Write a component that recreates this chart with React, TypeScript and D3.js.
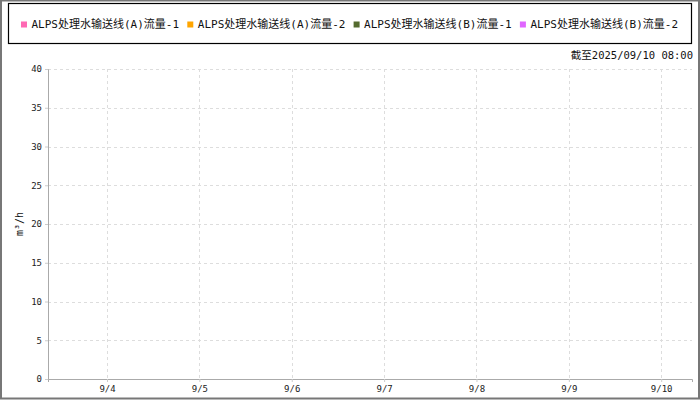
import React, { useEffect, useRef } from 'react';
import * as d3 from 'd3';

// series shown in the legend (no data points in the period)
const seriesNames = [
  'ALPS处理水输送线(A)流量-1',
  'ALPS处理水输送线(A)流量-2',
  'ALPS处理水输送线(B)流量-1',
  'ALPS处理水输送线(B)流量-2',
];
const seriesColors = ['#ff69b4', '#ffa500', '#556b2f', '#e066ff'];
const timeDomain = [new Date(2025, 8, 3, 8, 40), new Date(2025, 8, 10, 8, 0)];
const yDomain = [0, 40];
const yTicks = [0, 5, 10, 15, 20, 25, 30, 35, 40];
const asOfLabel = '截至2025/09/10 08:00';
const yLabel = 'm³/h';

const W = 700;
const H = 400;
const MONO = '"DejaVu Sans Mono", "Noto Sans CJK SC", monospace';

const App: React.FC = () => {
  const svgRef = useRef<SVGSVGElement>(null);

  useEffect(() => {
    if (!svgRef.current) return;
    const svg = d3.select(svgRef.current);
    svg.selectAll('*').remove();

    const margin = { top: 69, right: 8, bottom: 21, left: 48 };
    const innerW = W - margin.left - margin.right;
    const innerH = H - margin.top - margin.bottom;

    // outer frame
    svg.append('rect')
      .attr('x', 1).attr('y', 0.5)
      .attr('width', W - 2).attr('height', H - 2)
      .attr('fill', '#fff')
      .attr('stroke', '#777')
      .attr('stroke-width', 2);

    // legend box
    svg.append('rect')
      .attr('x', 8.5).attr('y', 3.5)
      .attr('width', 683).attr('height', 40)
      .attr('fill', 'none')
      .attr('stroke', '#000')
      .attr('stroke-width', 1.2);

    const legend = svg.append('g').attr('transform', 'translate(21, 24)');
    const items = legend.selectAll('g')
      .data(seriesNames)
      .enter().append('g')
      .attr('transform', (_, i) => `translate(${i * 166.3}, 0)`);
    items.append('rect')
      .attr('x', 0).attr('y', -2.5)
      .attr('width', 6).attr('height', 6)
      .attr('fill', (_, i) => seriesColors[i]);
    items.append('text')
      .attr('x', 10.5).attr('y', 4)
      .attr('font-family', MONO)
      .attr('font-size', '11px')
      .attr('fill', '#111')
      .text(d => d);

    svg.append('text')
      .attr('x', 693).attr('y', 59)
      .attr('text-anchor', 'end')
      .attr('font-family', MONO)
      .attr('font-size', '10.5px')
      .attr('fill', '#111')
      .text(asOfLabel);

    const x = d3.scaleTime().domain(timeDomain).range([0, innerW]);
    const y = d3.scaleLinear().domain(yDomain).range([innerH, 0]);
    const dayTicks = d3.timeDay.range(d3.timeDay.ceil(timeDomain[0]), timeDomain[1]);

    const g = svg.append('g').attr('transform', `translate(${margin.left}, ${margin.top})`);

    // grid
    g.append('g').selectAll('line')
      .data(yTicks.filter(t => t > 0))
      .enter().append('line')
      .attr('x1', 0).attr('x2', innerW)
      .attr('y1', d => Math.round(y(d)) + 0.5).attr('y2', d => Math.round(y(d)) + 0.5)
      .attr('stroke', '#ddd')
      .attr('stroke-dasharray', '3,3');
    g.append('g').selectAll('line')
      .data(dayTicks)
      .enter().append('line')
      .attr('x1', d => Math.round(x(d)) + 0.5).attr('x2', d => Math.round(x(d)) + 0.5)
      .attr('y1', 0).attr('y2', innerH)
      .attr('stroke', '#ddd')
      .attr('stroke-dasharray', '3,3');

    // axes
    const yAxis = g.append('g')
      .call(d3.axisLeft(y).tickValues(yTicks).tickSize(3).tickPadding(3));
    yAxis.select('.domain').attr('stroke', '#aaa');
    yAxis.selectAll('.tick line').attr('stroke', '#ccc');
    yAxis.selectAll('text')
      .attr('font-family', MONO)
      .style('font-size', '9px')
      .attr('fill', '#222');

    const xAxis = g.append('g')
      .attr('transform', `translate(0, ${innerH})`)
      .call(d3.axisBottom(x)
        .tickValues(dayTicks)
        .tickSize(3)
        .tickPadding(4)
        .tickFormat(d => d3.timeFormat('%-m/%-d')(d as Date)));
    xAxis.select('.domain').attr('stroke', '#aaa');
    xAxis.selectAll('.tick line').attr('stroke', '#ccc');
    xAxis.selectAll('text')
      .attr('font-family', MONO)
      .style('font-size', '9px')
      .attr('fill', '#222');

    // y label
    svg.append('text')
      .attr('transform', `translate(23, ${margin.top + innerH / 2}) rotate(-90)`)
      .attr('text-anchor', 'middle')
      .attr('font-family', MONO)
      .attr('font-size', '10px')
      .attr('fill', '#111')
      .text(yLabel);
  }, []);

  return (
    <svg
      ref={svgRef}
      width={W}
      height={H}
      style={{ position: 'absolute', left: 0, top: 0, display: 'block' }}
    />
  );
};

export default App;
